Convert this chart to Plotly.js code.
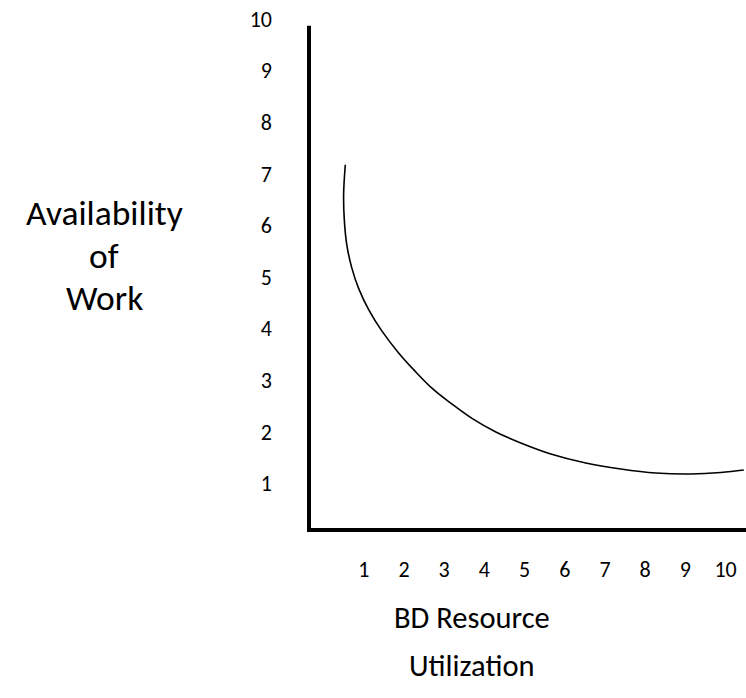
<!DOCTYPE html>
<html>
<head>
<meta charset="utf-8">
<script src="https://cdn.plot.ly/plotly-3.0.1.min.js"></script>
<style>html,body{margin:0;padding:0;background:#fff;}#chart{width:746px;height:698px;}</style>
</head>
<body>
<div id="chart"></div>
<script>
// Tick labels
const xTickVals = [1, 2, 3, 4, 5, 6, 7, 8, 9, 10];
const xTickText = ["1", "2", "3", "4", "5", "6", "7", "8", "9", "10"];
const yTickVals = [1, 2, 3, 4, 5, 6, 7, 8, 9, 10];
const yTickText = ["1", "2", "3", "4", "5", "6", "7", "8", "9", "10"];

// Curve
const curveX = [0.540, 0.498, 0.515, 0.577, 0.701, 0.876, 1.124, 1.448, 1.846, 2.269, 2.716, 3.189, 3.711, 4.284, 4.905, 5.652, 6.522, 7.393, 8.264, 9.134, 9.880, 10.453];
const curveY = [7.176, 6.595, 6.110, 5.626, 5.180, 4.773, 4.366, 3.959, 3.552, 3.184, 2.835, 2.545, 2.254, 2.002, 1.789, 1.576, 1.401, 1.285, 1.207, 1.188, 1.217, 1.266];

// Axis titles, one entry per text line
const xTitleLines = ["BD Resource", "Utilization"];
const yTitleLines = ["Availability", "of", "Work"];

const FONT = "Carlito, Lato, 'Liberation Sans', sans-serif";

const trace = {
  x: curveX,
  y: curveY,
  type: "scatter",
  mode: "lines",
  line: {color: "#000", width: 1.6, shape: "spline", smoothing: 1.1},
  hoverinfo: "skip"
};

const yTitleY = [0.6197, 0.5365, 0.4533];
const xTitleY = [-0.1704, -0.2643];

const annotations = [];
yTitleLines.forEach((t, i) => annotations.push({
  text: t, xref: "paper", yref: "paper", x: -0.468, y: yTitleY[i],
  xanchor: "center", yanchor: "middle", showarrow: false,
  font: {family: FONT, size: 35.5, color: "#000"}
}));
xTitleLines.forEach((t, i) => annotations.push({
  text: t, xref: "paper", yref: "paper", x: 0.373, y: xTitleY[i],
  xanchor: "center", yanchor: "middle", showarrow: false,
  font: {family: FONT, size: 30.5, color: "#000"}
}));

const layout = {
  width: 746,
  height: 698,
  margin: {l: 309, r: 0, t: 19.3, b: 168, pad: 0},
  paper_bgcolor: "#fff",
  plot_bgcolor: "#fff",
  showlegend: false,
  font: {family: FONT, color: "#000", size: 22},
  xaxis: {
    range: [-0.3632, 10.5075],
    tickmode: "array",
    tickvals: xTickVals,
    ticktext: xTickText,
    ticks: "",
    showgrid: false,
    zeroline: false,
    showline: false,
    ticklabelstandoff: 24,
    tickfont: {family: FONT, size: 22, color: "#000"},
    fixedrange: true
  },
  yaxis: {
    range: [0.103, 10],
    tickmode: "array",
    tickvals: yTickVals,
    ticktext: yTickText,
    ticks: "",
    showgrid: false,
    zeroline: false,
    showline: false,
    ticklabelstandoff: 36,
    tickfont: {family: FONT, size: 22, color: "#000"},
    fixedrange: true
  },
  shapes: [
    {type: "line", xref: "paper", yref: "paper", x0: 0, x1: 1, y0: 0, y1: 0, line: {color: "#000", width: 4}},
    {type: "line", xref: "paper", yref: "paper", x0: 0, x1: 0, y0: -0.004, y1: 0.987, line: {color: "#000", width: 4}}
  ],
  annotations: annotations
};

Plotly.newPlot("chart", [trace], layout, {displayModeBar: false, staticPlot: true});
</script>
</body>
</html>
